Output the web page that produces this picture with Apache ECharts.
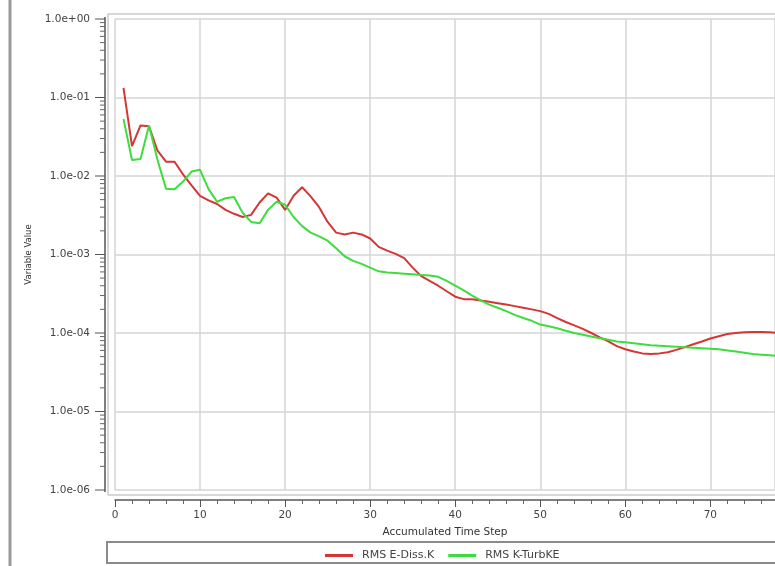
<!DOCTYPE html>
<html>
<head>
<meta charset="utf-8">
<script src="https://cdn.jsdelivr.net/npm/echarts@6/dist/echarts.min.js"></script>
<style>
html,body{margin:0;padding:0;background:#fff;}
#chart{width:775px;height:566px;}
</style>
</head>
<body>
<div id="chart"></div>
<script>
// Accumulated time steps
var steps = [];
for (var i = 1; i <= 78; i++) steps.push(i);

var rmsEDissK = [
  0.133, 0.024, 0.044, 0.043, 0.021, 0.0152, 0.0152, 0.0105, 0.0076, 0.0056,
  0.0049, 0.0044, 0.0037, 0.0033, 0.0030, 0.0032, 0.0046, 0.0060, 0.0053, 0.0037,
  0.0056, 0.0072, 0.0055, 0.0040, 0.0026, 0.0019, 0.0018, 0.0019, 0.0018, 0.0016,
  0.00125, 0.00112, 0.00102, 0.00090, 0.00068, 0.00053, 0.00046, 0.00040, 0.00034, 0.00029,
  0.00027, 0.00027, 0.00026, 0.00025, 0.00024, 0.00023, 0.00022, 0.00021, 0.00020, 0.00019,
  0.000175, 0.000155, 0.000138, 0.000125, 0.000113, 0.000100, 0.000088, 0.000078, 0.000068, 0.000062,
  0.000058, 0.000055, 0.000054, 0.000055, 0.000057, 0.000061, 0.000066, 0.000072, 0.000078, 0.000085,
  0.000091, 0.000097, 0.000100, 0.000102, 0.000103, 0.000103, 0.000102, 0.000100
];

var rmsKTurbKE = [
  0.053, 0.016, 0.0165, 0.044, 0.016, 0.0069, 0.0068, 0.0085, 0.0114, 0.0120,
  0.0068, 0.0047, 0.0052, 0.0054, 0.0034, 0.0026, 0.0025, 0.0037, 0.0047, 0.0043,
  0.0030, 0.0023, 0.0019, 0.0017, 0.0015, 0.0012, 0.00095, 0.00083, 0.00076, 0.00068,
  0.00061, 0.00059, 0.00058, 0.00057, 0.00056, 0.00055, 0.00054, 0.00052, 0.00046, 0.00040,
  0.00035, 0.00030, 0.00026, 0.00023, 0.00021, 0.00019, 0.00017, 0.000155, 0.000143, 0.000128,
  0.000122, 0.000115, 0.000107, 0.000100, 0.000095, 0.000090, 0.000086, 0.000082, 0.000078, 0.000076,
  0.000074, 0.000072, 0.000070, 0.000069, 0.000068, 0.000067, 0.000066, 0.000065, 0.000064, 0.000063,
  0.000062, 0.000060, 0.000058, 0.000056, 0.000054, 0.000053, 0.000052, 0.000051
];

var seriesNames = ['RMS E-Diss.K', 'RMS K-TurbKE'];
var xTickLabels = ['0', '10', '20', '30', '40', '50', '60', '70'];
var yDecades = [-6, -5, -4, -3, -2, -1, 0];
var yMinorMultipliers = [2, 3, 4, 5, 6, 7, 8, 9];

function pairs(xs, ys) {
  return xs.map(function (x, k) { return [x, ys[k]]; });
}

var FONT = 'DejaVu Sans';
var AXIS_COLOR = '#555';
var chart = echarts.init(document.getElementById('chart'), null, {renderer: 'canvas'});

var staticGraphics = [
  {type: 'rect', z: -10, silent: true,
   shape: {x: 108, y: 14, width: 700, height: 481},
   style: {fill: 'none', stroke: '#b0b0b0', lineWidth: 1}},
  {type: 'rect', z: -10, silent: true,
   shape: {x: 107, y: 542, width: 700, height: 21},
   style: {fill: '#ffffff', stroke: '#8a8a8a', lineWidth: 2}},
  {type: 'line', z: -10, silent: true,
   shape: {x1: 10, y1: 0, x2: 10, y2: 566},
   style: {stroke: '#9a9a9a', lineWidth: 3}}
];

var option = {
  animation: false,
  backgroundColor: '#ffffff',
  textStyle: {fontFamily: FONT},
  grid: {left: 115, right: 0, top: 19, bottom: 76, containLabel: false},
  graphic: staticGraphics,
  legend: {
    data: seriesNames,
    left: 320,
    top: 545,
    itemWidth: 28,
    itemHeight: 3,
    itemGap: 14,
    icon: 'rect',
    textStyle: {fontFamily: FONT, fontSize: 11, color: '#444', padding: [0, 0, 0, 4]}
  },
  xAxis: {
    type: 'value',
    min: 0,
    max: 77.6,
    interval: 10,
    offset: 10,
    name: 'Accumulated Time Step',
    nameLocation: 'middle',
    nameGap: 27,
    nameTextStyle: {fontFamily: FONT, fontSize: 10.5, color: '#333'},
    axisLine: {show: true, lineStyle: {color: AXIS_COLOR, width: 1.5}},
    axisTick: {show: true, length: 7, lineStyle: {color: AXIS_COLOR}},
    minorTick: {show: true, splitNumber: 5, length: 4, lineStyle: {color: '#666'}},
    axisLabel: {
      margin: 10, fontFamily: FONT, fontSize: 10.5, color: '#444',
      showMaxLabel: false,
      formatter: function (v) {
        var idx = xTickLabels.indexOf(String(v));
        return idx >= 0 ? xTickLabels[idx] : '';
      }
    },
    splitLine: {show: true, lineStyle: {color: '#d4d4d4', width: 1.5}}
  },
  yAxis: {
    type: 'log',
    logBase: 10,
    min: 1e-6,
    max: 1,
    interval: 1,
    offset: 0,
    name: 'Variable Value',
    nameLocation: 'middle',
    nameGap: 74,
    nameTextStyle: {fontFamily: FONT, fontSize: 8.5, color: '#333'},
    axisLine: {show: false},
    axisTick: {show: false},
    minorTick: {show: false},
    axisLabel: {
      margin: 25, fontFamily: FONT, fontSize: 10.5, color: '#444',
      formatter: function (v) {
        var e = Math.round(Math.log10(v));
        var sign = e < 0 ? '-' : '+';
        var a = Math.abs(e);
        return '1.0e' + sign + (a < 10 ? '0' + a : String(a));
      }
    },
    splitLine: {show: true, lineStyle: {color: '#d4d4d4', width: 1.5}}
  },
  series: [
    {
      name: seriesNames[0], type: 'line', showSymbol: false, symbol: 'none',
      data: pairs(steps, rmsEDissK),
      lineStyle: {color: '#d43636', width: 2},
      itemStyle: {color: '#d43636'}
    },
    {
      name: seriesNames[1], type: 'line', showSymbol: false, symbol: 'none',
      data: pairs(steps, rmsKTurbKE),
      lineStyle: {color: '#3fdc3f', width: 2},
      itemStyle: {color: '#3fdc3f'}
    }
  ]
};
chart.setOption(option);

// Y axis line with major and logarithmic minor ticks, placed through the axis' own scale
var axisX = chart.convertToPixel({xAxisIndex: 0}, 0) - 10;
var yTop = chart.convertToPixel({yAxisIndex: 0}, 1);
var yBottom = chart.convertToPixel({yAxisIndex: 0}, 1e-6);
var axisGraphics = [{
  type: 'line', silent: true, z: 5,
  shape: {x1: axisX, y1: yTop - 2, x2: axisX, y2: yBottom + 2},
  style: {stroke: AXIS_COLOR, lineWidth: 1.5}
}];
yDecades.forEach(function (d) {
  var pm = chart.convertToPixel({yAxisIndex: 0}, Math.pow(10, d));
  axisGraphics.push({
    type: 'line', silent: true, z: 5,
    shape: {x1: axisX - 10, y1: pm, x2: axisX, y2: pm},
    style: {stroke: AXIS_COLOR, lineWidth: 1}
  });
  if (d >= 0) return;
  yMinorMultipliers.forEach(function (m) {
    var py = chart.convertToPixel({yAxisIndex: 0}, m * Math.pow(10, d));
    axisGraphics.push({
      type: 'line', silent: true, z: 5,
      shape: {x1: axisX - 5, y1: py, x2: axisX, y2: py},
      style: {stroke: '#666', lineWidth: 1}
    });
  });
});
chart.setOption({graphic: staticGraphics.concat(axisGraphics)});
</script>
</body>
</html>
